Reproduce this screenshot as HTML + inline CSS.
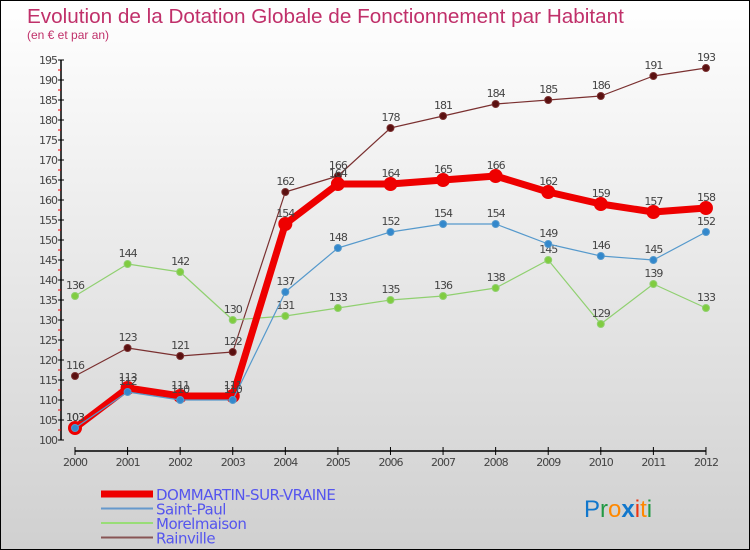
<!DOCTYPE html>
<html><head><meta charset="utf-8"><style>
body{margin:0}
#c{width:748px;height:548px;border:1px solid #000;background:linear-gradient(#fff,#d0d0d0);position:relative;font-family:"DejaVu Sans","Liberation Sans",sans-serif}
svg{position:absolute;left:0;top:0}
</style></head><body>
<div id="c">
<svg id="s" width="748" height="548"></svg>
</div>
<script>
const years=["2000","2001","2002","2003","2004","2005","2006","2007","2008","2009","2010","2011","2012"];
const dommartin=[103,113,111,111,154,164,164,165,166,162,159,157,158];
const saintPaul=[103,112,110,110,137,148,152,154,154,149,146,145,152];
const morelmaison=[136,144,142,130,131,133,135,136,138,145,129,139,133];
const rainville=[116,123,121,122,162,166,178,181,184,185,186,191,193];
const yTicks=[100,105,110,115,120,125,130,135,140,145,150,155,160,165,170,175,180,185,190,195];
const NS="http://www.w3.org/2000/svg";
const s=document.getElementById('s');
function X(i){return 74+i*52.58;}
function Y(v){return 439-(v-100)*4;}
function el(t,a,txt){const e=document.createElementNS(NS,t);for(const k in a)e.setAttribute(k,a[k]);if(txt!==undefined)e.textContent=txt;s.appendChild(e);return e;}
let t=el('text',{x:26,y:22,'font-size':20.7,fill:'#c0306a','font-family':'Liberation Sans, sans-serif'},'Evolution de la Dotation Globale de Fonctionnement par Habitant');


t=el('text',{x:26,y:38,'font-size':12,fill:'#c0306a','font-family':'Liberation Sans, sans-serif'},'(en € et par an)');


let a=el('line',{x1:60,y1:Y(195),x2:60,y2:Y(100),stroke:'#000','stroke-width':1.5});


a=el('line',{x1:X(0),y1:450,x2:X(12),y2:450,stroke:'#000','stroke-width':1.5});


yTicks.forEach(v=>{
 el('line',{x1:57,y1:Y(v),x2:63,y2:Y(v),stroke:'#000'});
 if(v<195) el('line',{x1:57,y1:Y(v)-10,x2:60,y2:Y(v)-10,stroke:'#e00'});
 const l=el('text',{x:56,y:Y(v)+4,'font-size':11,fill:'#444','text-anchor':'end','letter-spacing':'-1'},v);
 
 
});
years.forEach((y,i)=>{
 el('line',{x1:X(i),y1:446,x2:X(i),y2:454,stroke:'#000'});
 const l=el('text',{x:X(i),y:465,'font-size':11,fill:'#444','text-anchor':'middle','letter-spacing':'-1'},y);
 
 
});
function series(d,color,w,r,fill,name){
 const p=el('polyline',{points:d.map((v,i)=>X(i)+','+Y(v)).join(' '),fill:'none',stroke:color,'stroke-width':w,'stroke-linejoin':'round'});
 
 
 d.forEach((v,i)=>{
  const c=el('circle',{cx:X(i),cy:Y(v),r:r,fill:fill,stroke:color,'stroke-width':1});
  
  
  const l=el('text',{x:X(i),y:Y(v)-7,'font-size':11,fill:'#444','text-anchor':'middle','letter-spacing':'-1'},v);
  
  
 });
}
series(rainville,'#7a3030',1.2,3.5,'#5a1010','rainville');
series(morelmaison,'#90d070',1.2,3.5,'#80cc40','morelmaison');
series(dommartin,'#ee0000',7,6.5,'#ee0000','dommartin');
series(saintPaul,'#5599cc',1.2,3.5,'#3388cc','saint-paul');
const legend=[['DOMMARTIN-SUR-VRAINE','#ee0000',7],['Saint-Paul','#6699cc',2],['Morelmaison','#99dd77',2],['Rainville','#885555',2]];
legend.forEach((e,i)=>{
 const y=493+i*14.5;
 const l=el('line',{x1:100,y1:y,x2:152,y2:y,stroke:e[1],'stroke-width':e[2]});
 
 
 const tx=el('text',{x:155,y:y+6,'font-size':15,fill:'#5555ee','letter-spacing':'-0.5'},e[0]);
 
 
});
const logo=el('text',{x:583,y:516,'font-size':24,fill:'#1177cc','font-family':'Liberation Sans, sans-serif'},'');


[['P','#1177cc'],['r','#229944'],['o','#ff8800'],['x','#1177cc'],['i','#ee3311'],['t','#ff8800'],['i','#229944']].forEach(p=>{const ts=document.createElementNS(NS,'tspan');ts.setAttribute('fill',p[1]);if(p[0]==='x')ts.setAttribute('font-weight','bold');ts.textContent=p[0];logo.appendChild(ts);});
</script>
</body></html>
